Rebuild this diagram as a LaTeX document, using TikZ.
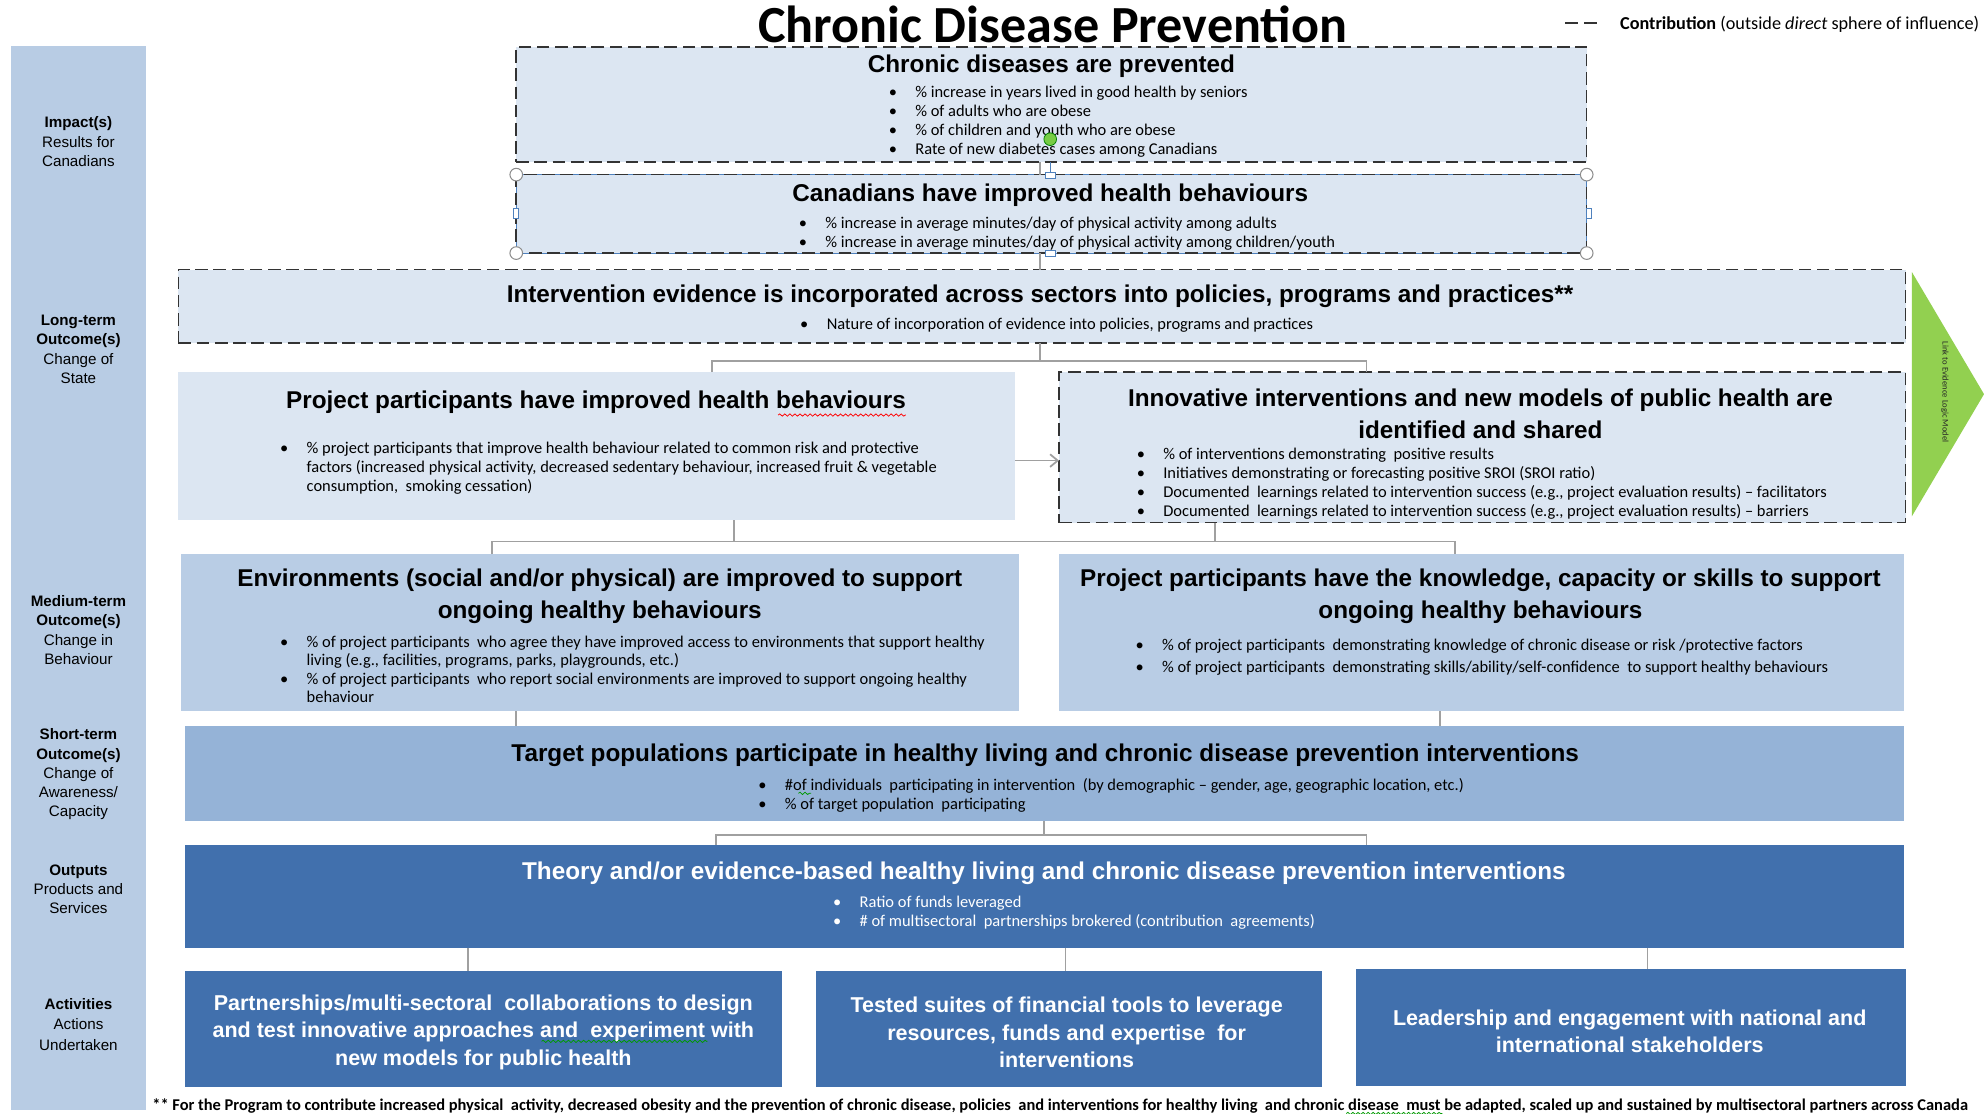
\documentclass[tikz,border=0pt]{standalone}
\usepackage{fontspec}
\setmainfont{Liberation Sans}
\newfontfamily\calfont{Carlito}
\usetikzlibrary{fit,arrows.meta,decorations.pathmorphing}
\definecolor{sidec}{HTML}{B8CCE4}
\definecolor{lightc}{HTML}{DCE6F2}
\definecolor{midc}{HTML}{B9CDE5}
\definecolor{shortc}{HTML}{95B3D7}
\definecolor{darkc}{HTML}{4170AD}
\definecolor{greenc}{HTML}{92D050}
\definecolor{connc}{HTML}{A0A0A0}
\definecolor{selc}{HTML}{4F81BD}
\definecolor{rotc}{HTML}{77CC44}
\newcommand{\bu}{\makebox[10.5pt][l]{\textbullet}}
\newcommand{\ind}{\hspace*{10.5pt}}
\tikzset{
  plainbox/.style={inner sep=0pt, outer sep=0pt},
  dbox/.style={plainbox, fill=lightc, draw=black!80, line width=0.6pt, dash pattern=on 5pt off 2.2pt},
  head/.style={font=\bfseries\fontsize{9.6pt}{12.5pt}\selectfont, align=center, inner sep=0pt, yshift=-1.25pt},
  acthead/.style={font=\bfseries\fontsize{8.5pt}{11pt}\selectfont, align=center, inner sep=0pt, text=white, yshift=-1.2pt},
  blt/.style={font=\calfont\fontsize{6.5pt}{7.5pt}\selectfont, align=left, anchor=west, inner sep=0pt, yshift=-1pt},
  side/.style={font=\fontsize{6pt}{7.6pt}\selectfont, align=center, inner sep=0pt},
  conn/.style={draw=connc, line width=0.7pt},
  handle/.style={draw=black!45, fill=white, line width=0.4pt},
  wavyr/.style={draw=red, line width=0.3pt, decorate, decoration={snake, amplitude=0.45pt, segment length=2pt}},
  wavyg/.style={draw=green!60!black, line width=0.3pt, decorate, decoration={snake, amplitude=0.45pt, segment length=2pt}}
}
\begin{document}
\begin{tikzpicture}[x=0.5pt,y=-0.5pt]
\useasboundingbox (0,0) rectangle (1568,880);
\fill[white] (0,0) rectangle (1568,880);

% title and legend
\node[font=\calfont\bfseries\fontsize{20.6pt}{24pt}\selectfont, inner sep=0pt] (title) at (832,19) {Chronic Disease Prevention};
\coordinate (lg1) at (1237,18);
\coordinate (lg2) at (1262,18);
\draw[black!80, line width=0.6pt, dash pattern=on 5pt off 2.5pt] (lg1) -- (lg2);
\node[font=\calfont\fontsize{7.2pt}{8pt}\selectfont, anchor=west, inner sep=0pt] (legend) at (1280,19) {\textbf{Contribution} (outside \textit{direct} sphere of influence)};

% sidebar
\node[plainbox, fill=sidec, fit={(9,36) (115,877)}] (sidebar) {};
\node[side] (s1) at (62,112) {\textbf{Impact(s)}\\Results for\\Canadians};
\node[side] (s2) at (62,276) {\textbf{Long-term}\\\textbf{Outcome(s)}\\Change of\\State};
\node[side] (s3) at (62,498) {\textbf{Medium-term}\\\textbf{Outcome(s)}\\Change in\\Behaviour};
\node[side] (s4) at (62,612) {\textbf{Short-term}\\\textbf{Outcome(s)}\\Change of\\Awareness/\\Capacity};
\node[side] (s5) at (62,703) {\textbf{Outputs}\\Products and\\Services};
\node[side] (s6) at (62,810) {\textbf{Activities}\\Actions\\[1pt]Undertaken};

% box 1
\node[dbox, fit={(408,37) (1254,128)}] (b1) {};
\node[head] (h1) at (831,50) {Chronic diseases are prevented};
\node[blt] (l1) at (702,94.5) {\bu\% increase in years lived in good health by seniors\\\bu\% of adults who are obese\\\bu\% of children and youth who are obese\\\bu Rate of new diabetes cases among Canadians};

% box 2 (selected)
\node[plainbox, fill=lightc, draw=selc, line width=0.4pt, fit={(408,138) (1254,200)}] (b2) {};
\draw[black!80, line width=0.6pt, dash pattern=on 5pt off 2.2pt] (b2.north west) rectangle (b2.south east);
\node[head] (h2) at (830,152) {Canadians have improved health behaviours};
\node[blt] (l2) at (631,182.5) {\bu\% increase in average minutes/day of physical activity among adults\\\bu\% increase in average minutes/day of physical activity among children/youth};

% box 3
\node[dbox, fit={(141,213) (1506,271)}] (b3) {};
\node[head] (h3) at (822,232) {Intervention evidence is incorporated across sectors into policies, programs and practices**};
\node[blt] (l3) at (632,255) {\bu Nature of incorporation of evidence into policies, programs and practices};

% box 4
\node[plainbox, fill=lightc, fit={(141,294) (802,411)}] (b4) {};
\node[head] (h4) at (471,315) {Project participants have improved health behaviours};
\node[blt] (l4) at (221,368) {\bu\% project participants that improve health behaviour related to common risk and protective\\\ind factors (increased physical activity, decreased sedentary behaviour, increased fruit \& vegetable\\\ind consumption,\ \ smoking cessation)};

% box 5
\node[dbox, fit={(837,294) (1506,413)}] (b5) {};
\node[head] (h5) at (1170,324.5) {Innovative interventions and new models of public health are\\identified and shared};
\node[blt] (l5) at (898,380) {\bu\% of interventions demonstrating\ \ positive results\\\bu Initiatives demonstrating or forecasting positive SROI (SROI ratio)\\\bu Documented\ \ learnings related to intervention success (e.g., project evaluation results) – facilitators\\\bu Documented\ \ learnings related to intervention success (e.g., project evaluation results) – barriers};

% green arrow
\node[plainbox, fit={(1511,215) (1568,408)}] (garrow) {};
\fill[greenc] (garrow.north west) -- (garrow.east) -- (garrow.south west) -- cycle;
\node[font=\calfont\fontsize{3.4pt}{4pt}\selectfont, rotate=-90, inner sep=0pt, text=black!85] (gtext) at (1537,310) {Link to Evidence Logic Model};

% box 7
\node[plainbox, fill=midc, fit={(143,438) (805,562)}] (b7) {};
\node[head] (h7) at (474,468.5) {Environments (social and/or physical) are improved to support\\ongoing healthy behaviours};
\node[blt, yshift=0.5pt, font=\calfont\fontsize{6.5pt}{7.35pt}\selectfont] (l7) at (221,528) {\bu\% of project participants\ \ who agree they have improved access to environments that support healthy\\\ind living (e.g., facilities, programs, parks, playgrounds, etc.)\\\bu\% of project participants\ \ who report social environments are improved to support ongoing healthy\\\ind behaviour};

% box 8
\node[plainbox, fill=midc, fit={(837,438) (1505,562)}] (b8) {};
\node[head] (h8) at (1170,468.5) {Project participants have the knowledge, capacity or skills to support\\ongoing healthy behaviours};
\node[blt, font=\calfont\fontsize{6.5pt}{8.5pt}\selectfont] (l8) at (897,517.5) {\bu\% of project participants\ \ demonstrating knowledge of chronic disease or risk /protective factors\\\bu\% of project participants\ \ demonstrating skills/ability/self-confidence\ \ to support healthy behaviours};

% box 9
\node[plainbox, fill=shortc, fit={(146,574) (1505,649)}] (b9) {};
\node[head] (h9) at (826,594) {Target populations participate in healthy living and chronic disease prevention interventions};
\node[blt] (l9) at (599,626.5) {\bu\#of individuals\ \ participating in intervention\ \ (by demographic – gender, age, geographic location, etc.)\\\bu\% of target population\ \ participating};

% box 10
\node[plainbox, fill=darkc, fit={(146,668) (1505,749)}] (b10) {};
\node[head, text=white] (h10) at (825,688) {Theory and/or evidence-based healthy living and chronic disease prevention interventions};
\node[blt, text=white] (l10) at (658,719.5) {\bu Ratio of funds leveraged\\\bu\# of multisectoral\ \ partnerships brokered (contribution\ \ agreements)};

% activities
\node[plainbox, fill=darkc, fit={(146,767) (618,859)}] (a1) {};
\node[acthead] (ah1) at (382,813.5) {Partnerships/multi-sectoral\ \ collaborations to design\\and test innovative approaches and\ \ experiment with\\new models for public health};
\node[plainbox, fill=darkc, fit={(645,767) (1045,859)}] (a2) {};
\node[acthead] (ah2) at (843,813.5) {Tested suites of financial tools to leverage\\resources, funds and expertise\ \ for\\interventions};
\node[plainbox, fill=darkc, fit={(1072,766) (1506,858)}] (a3) {};
\node[acthead, yshift=0.7pt] (ah3) at (1288,814) {Leadership and engagement with national and\\international stakeholders};

% footnote
\node[font=\calfont\bfseries\fontsize{6.5pt}{7pt}\selectfont, anchor=west, inner sep=0pt] (foot) at (120,874) {** For the Program to contribute increased physical\ \ activity, decreased obesity and the prevention of chronic disease, policies\ \ and interventions for healthy living\ \ and chronic disease\ \ must be adapted, scaled up and sustained by multisectoral partners across Canada};

% connectors
\draw[conn] (b1.south -| 822,0) -- (b2.north -| 822,0);
\draw[conn] (b2.south -| 822,0) -- (b3.north -| 822,0);
\coordinate (j3) at (822,285);
\coordinate (j3l) at (563,285);
\coordinate (j3r) at (1080,285);
\draw[conn] (b3.south -| j3) -- (j3);
\draw[conn] (b4.north -| j3l) -- (j3l) -- (j3r) -- (b5.north -| j3r);
\draw[conn, -{Straight Barb[length=3pt,width=5pt]}] (b4.east |- 0,364) -- (b5.west |- 0,364);
\coordinate (j4a) at (580,428);
\coordinate (j4b) at (960,428);
\coordinate (j4l) at (389,428);
\coordinate (j4r) at (1150,428);
\draw[conn] (b4.south -| j4a) -- (j4a);
\draw[conn] (b5.south -| j4b) -- (j4b);
\draw[conn] (b7.north -| j4l) -- (j4l) -- (j4r) -- (b8.north -| j4r);
\draw[conn] (b7.south -| 408,0) -- (b9.north -| 408,0);
\draw[conn] (b8.south -| 1138,0) -- (b9.north -| 1138,0);
\coordinate (j9) at (825,660);
\coordinate (j9l) at (566,660);
\coordinate (j9r) at (1080,660);
\draw[conn] (b9.south -| j9) -- (j9);
\draw[conn] (b10.north -| j9l) -- (j9l) -- (j9r) -- (b10.north -| j9r);
\draw[conn] (b10.south -| 370,0) -- (a1.north -| 370,0);
\draw[conn] (b10.south -| 842,0) -- (a2.north -| 842,0);
\draw[conn] (b10.south -| 1302,0) -- (a3.north -| 1302,0);

% selection handles (screenshot artefacts)
\draw[selc, line width=0.4pt] (830,128) -- (b2.north -| 830,0);
\draw[handle] (b2.north west) circle (5);
\draw[handle] (b2.north east) circle (5);
\draw[handle] (b2.south west) circle (5);
\draw[handle] (b2.south east) circle (5);
\draw[handle, draw=selc] (b2.west) ++(-2,-4) rectangle ++(4,8);
\draw[handle, draw=selc] (b2.east) ++(0,-4) rectangle ++(4,8);
\draw[handle, draw=selc] (b2.north -| 830,0) ++(-4,-2) rectangle ++(8,5);
\draw[handle, draw=selc] (b2.south -| 830,0) ++(-4,-2) rectangle ++(8,5);
\fill[rotc, draw=green!50!black, line width=0.3pt] (830,110) circle (5);

% spell-check underlines
\draw[wavyr] (615,328) -- (716,328);
\draw[wavyg] (428,823) -- (559,823);
\draw[wavyg] (631,627) -- (641,627);
\draw[wavyg] (1064,880) -- (1140,880);
\end{tikzpicture}
\end{document}
